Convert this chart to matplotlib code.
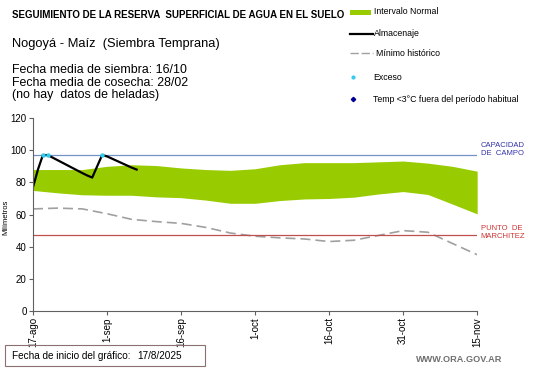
import matplotlib.pyplot as plt
import numpy as np
from matplotlib.lines import Line2D
from matplotlib.patches import Rectangle

plt.rcParams["font.family"] = ["Liberation Sans", "DejaVu Sans"]

# days since 17-ago
band_days = [0, 5, 10, 15, 20, 25, 30, 35, 40, 45, 50, 55, 60, 65, 70, 75, 80, 85, 90]
band_upper = [88, 88, 88, 90, 91, 90.5, 89, 88, 87.5, 88.5, 91, 92.3, 92.3, 92.3, 92.8, 93.3, 92, 90, 87]
band_lower = [75, 73.5, 72.3, 72, 72, 71, 70.5, 69, 67, 67, 68.7, 69.7, 70, 70.8, 72.8, 74.3, 72.5, 66.5, 60.4]

min_hist = [63.5, 64, 63.5, 60.5, 57, 55.6, 54.5, 52, 48.5, 46.5, 45.5, 44.8, 43.2, 44, 47, 50, 49, 42, 35]

alm_days = list(range(22))
alm_vals = [77, 88, 97, 97, 95.4, 93.8, 92.2, 90.6, 89, 87.4, 85.8, 84.3, 83, 90, 97, 96.2,
            94.8, 93.4, 92, 90.6, 89.2, 88]

exceso_days = [2, 3, 14]
exceso_vals = [97, 97, 97]

cap_campo = 97
pto_marchitez = 47.3

tick_days = [0, 15, 30, 45, 60, 75, 90]
tick_labels = ["17-ago", "1-sep", "16-sep", "1-oct", "16-oct", "31-oct", "15-nov"]

fig = plt.figure(figsize=(5.41, 3.68), dpi=100)
ax = fig.add_axes([0.061, 0.155, 0.821, 0.524])

ax.fill_between(band_days, band_lower, band_upper, color="#99cc00", lw=0)
ax.plot(band_days, min_hist, color="#a0a0a0", lw=1.2, dashes=(6, 3))
ax.axhline(cap_campo, color="#7393c8", lw=0.9)
ax.axhline(pto_marchitez, color="#c0504d", lw=0.9)
ax.plot(alm_days, alm_vals, color="black", lw=1.6)
ax.plot(exceso_days, exceso_vals, ls="none", marker="o", ms=2.2, color="#33ccee")

ax.set_xlim(0, 90)
ax.set_ylim(0, 120)
ax.set_yticks(range(0, 121, 20))
ax.set_xticks(tick_days)
ax.set_xticklabels(tick_labels, rotation=90)
ax.tick_params(labelsize=7, length=3, color="#606060", pad=1.5)
for s in ["top", "right"]:
    ax.spines[s].set_visible(False)
for s in ["left", "bottom"]:
    ax.spines[s].set_color("#606060")
ax.set_ylabel("Milímetros", fontsize=5.5)
ax.yaxis.set_label_coords(-0.053, 0.487)

ax.text(1.008, cap_campo - 1.5, "CAPACIDAD\nDE  CAMPO", transform=ax.get_yaxis_transform(),
        fontsize=5.5, color="#3333aa", va="bottom", linespacing=1.25)
ax.text(1.008, pto_marchitez - 3, "PUNTO  DE\nMARCHITEZ", transform=ax.get_yaxis_transform(),
        fontsize=5.5, color="#cc3333", va="bottom", linespacing=1.25)

fig.text(12 / 541, 1 - 15 / 368, "SEGUIMIENTO DE LA RESERVA  SUPERFICIAL DE AGUA EN EL SUELO",
         fontsize=7.0, fontweight="bold", va="center")
fig.text(12 / 541, 1 - 44 / 368, "Nogoyá - Maíz  (Siembra Temprana)", fontsize=9.3, va="center")
fig.text(12 / 541, 1 - 82.5 / 368,
         "Fecha media de siembra: 16/10\nFecha media de cosecha: 28/02\n(no hay  datos de heladas)",
         fontsize=8.9, va="center", linespacing=1.1)

# legend
W, H = 541, 368
fig.patches.append(Rectangle((350 / W, 1 - 15 / H), 21 / W, 5 / H, transform=fig.transFigure,
                             color="#99cc00", lw=0))
fig.lines.append(Line2D([350 / W, 373 / W], [1 - 34 / H] * 2, transform=fig.transFigure,
                        color="black", lw=1.6))
fig.lines.append(Line2D([350 / W, 373 / W], [1 - 53 / H] * 2, transform=fig.transFigure,
                        color="#a0a0a0", lw=1.0, dashes=(6, 2)))
fig.lines.append(Line2D([353 / W], [1 - 77 / H], transform=fig.transFigure, ls="none",
                        marker="o", ms=2, color="#33ccee"))
fig.lines.append(Line2D([353 / W], [1 - 99 / H], transform=fig.transFigure, ls="none",
                        marker="D", ms=2.2, color="#000099"))
leg_items = [(374, 12, "Intervalo Normal"), (374, 34, "Almacenaje"), (376, 53, "Mínimo histórico"),
             (373, 77, "Exceso"), (373, 99, "Temp <3°C fuera del período habitual")]
for x, y, t in leg_items:
    fig.text(x / W, 1 - y / H, t, fontsize=6.3, va="center")

# footer
fig.patches.append(Rectangle((5 / W, 1 - 366 / H), 200 / W, 21 / H, transform=fig.transFigure,
                             fill=False, ec="#8c7070", lw=0.8))
fig.text(12 / W, 1 - 356 / H, "Fecha de inicio del gráfico:", fontsize=7.2, va="center")
fig.text(137 / W, 1 - 356 / H, "17/8/2025", fontsize=7.2, va="center")
fig.text(502 / W, 1 - 359 / H, "WWW.ORA.GOV.AR", fontsize=6.6, color="#707070",
         fontweight="bold", ha="right", va="center")

fig.savefig("out.png", dpi=100)
